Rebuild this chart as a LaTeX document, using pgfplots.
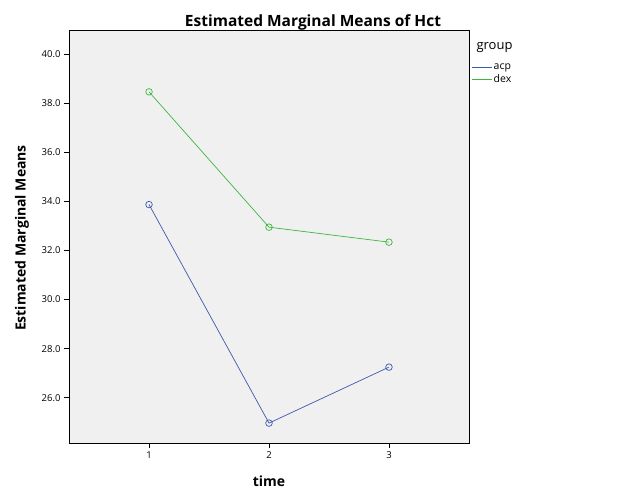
\documentclass[border=0pt]{standalone}
\usepackage{pgfplots}
\pgfplotsset{compat=1.18}
\usepackage{fontspec}
\setmainfont{Open Sans}
\definecolor{acpc}{RGB}{62,88,172}
\definecolor{dexc}{RGB}{62,182,62}
\definecolor{bgc}{RGB}{240,240,240}
\begin{document}
\begin{tikzpicture}[x=1pt,y=1pt]
\path[fill=white] (0,0) rectangle (627,502);
\begin{axis}[
  at={(69pt,59pt)}, anchor=south west,
  width=400pt, height=413pt, scale only axis,
  xmin=0.333, xmax=3.667, ymin=24.16, ymax=40.98,
  axis background/.style={fill=bgc},
  axis line style={black, line width=0.9pt},
  xtick={1,2,3}, ytick={26,28,...,40},
  tick align=outside, tick pos=left,
  major tick length=5pt,
  tick style={black, line width=0.8pt},
  xticklabel style={font=\fontsize{9.5}{10}\selectfont},
  yticklabel style={font=\fontsize{9.5}{10}\selectfont, /pgf/number format/fixed, /pgf/number format/precision=1, /pgf/number format/fixed zerofill},
  /pgf/number format/assume math mode=true,
  xticklabel={\pgfmathprintnumber[fixed,precision=0]{\tick}},
  legend style={at={(1.005,0.92)}, anchor=north west, draw=none, fill=none, font=\fontsize{10.5}{12}\selectfont, row sep=2.5pt, inner sep=0pt, nodes={inner xsep=1.5pt, inner ysep=0.5pt}},
  legend cell align=left,
  legend image code/.code={\draw[#1] (0pt,0pt) -- (20pt,0pt);},
  clip=false,
]
\addplot[color=acpc, line width=0.7pt, mark=o, mark size=3.3pt, mark options={line width=0.7pt}, forget plot] coordinates {(1,33.87) (2,24.97) (3,27.25)};
\addplot[color=dexc, line width=0.7pt, mark=o, mark size=3.3pt, mark options={line width=0.7pt}, forget plot] coordinates {(1,38.46) (2,32.95) (3,32.34)};
\addlegendimage{draw=acpc, line width=1pt}
\addlegendentry{acp}
\addlegendimage{draw=dexc, line width=1pt}
\addlegendentry{dex}
\end{axis}
\node[font=\bfseries\fontsize{15.5}{17}\selectfont] at (313,480) {Estimated Marginal Means of Hct};
\node[font=\bfseries\fontsize{14}{16}\selectfont] at (269,21) {time};
\node[font=\bfseries\fontsize{14}{16}\selectfont, rotate=90] at (22,264) {Estimated Marginal Means};
\node[font=\fontsize{13}{14}\selectfont, anchor=west] at (473,454) {group};
\end{tikzpicture}
\end{document}
